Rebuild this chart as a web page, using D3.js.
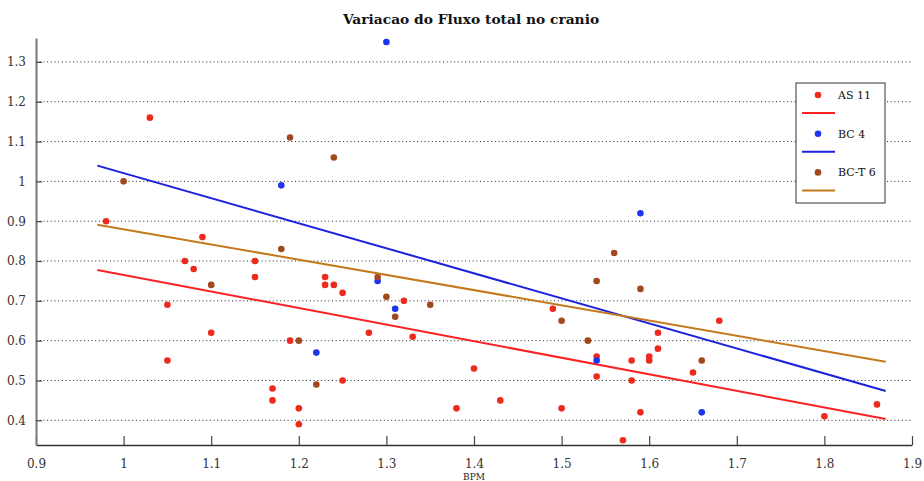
<!DOCTYPE html>
<html>
<head>
<meta charset="utf-8">
<script src="https://cdn.jsdelivr.net/npm/d3@7"></script>
<style>
  html, body { margin: 0; padding: 0; background: #fff; }
  svg { display: block; }
</style>
</head>
<body>
<svg id="chart" width="924" height="481"></svg>
<script>
// Group AS 11 (red)
const asBpm  = [0.98, 1.03, 1.05, 1.05, 1.07, 1.08, 1.09, 1.10, 1.15, 1.15, 1.17, 1.17, 1.19, 1.20, 1.20,
                1.23, 1.23, 1.24, 1.25, 1.25, 1.28, 1.32, 1.33, 1.38, 1.40, 1.43, 1.49, 1.50, 1.54, 1.54,
                1.57, 1.58, 1.58, 1.59, 1.60, 1.60, 1.61, 1.61, 1.65, 1.68, 1.80, 1.86];
const asFlow = [0.90, 1.16, 0.69, 0.55, 0.80, 0.78, 0.86, 0.62, 0.80, 0.76, 0.48, 0.45, 0.60, 0.43, 0.39,
                0.76, 0.74, 0.74, 0.72, 0.50, 0.62, 0.70, 0.61, 0.43, 0.53, 0.45, 0.68, 0.43, 0.56, 0.51,
                0.35, 0.55, 0.50, 0.42, 0.56, 0.55, 0.62, 0.58, 0.52, 0.65, 0.41, 0.44];

// Group BC 4 (blue)
const bcBpm  = [1.18, 1.22, 1.29, 1.30, 1.31, 1.54, 1.59, 1.66];
const bcFlow = [0.99, 0.57, 0.75, 1.35, 0.68, 0.55, 0.92, 0.42];

// Group BC-T 6 (brown)
const bctBpm  = [1.00, 1.10, 1.18, 1.19, 1.20, 1.22, 1.24, 1.29, 1.30, 1.31, 1.35, 1.50, 1.53, 1.54, 1.56, 1.59, 1.66];
const bctFlow = [1.00, 0.74, 0.83, 1.11, 0.60, 0.49, 1.06, 0.76, 0.71, 0.66, 0.69, 0.65, 0.60, 0.75, 0.82, 0.73, 0.55];

// Linear fit lines: values at the two ends of the fitted BPM range
const fitBpm  = [0.97, 1.87];
const asFit   = [0.7775, 0.4032];
const bcFit   = [1.0395, 0.4736];
const bctFit  = [0.8913, 0.5472];

const seriesNames = ["AS 11", "BC 4", "BC-T 6"];
const xTicks = [0.9, 1.0, 1.1, 1.2, 1.3, 1.4, 1.5, 1.6, 1.7, 1.8, 1.9];
const yTicks = [0.4, 0.5, 0.6, 0.7, 0.8, 0.9, 1.0, 1.1, 1.2, 1.3];

const series = [
  { name: seriesNames[0], x: asBpm,  y: asFlow,  fit: asFit,  dot: "#ee2a1e", line: "#fa2222" },
  { name: seriesNames[1], x: bcBpm,  y: bcFlow,  fit: bcFit,  dot: "#1e34ee", line: "#1a22dc" },
  { name: seriesNames[2], x: bctBpm, y: bctFlow, fit: bctFit, dot: "#a2481e", line: "#c47a1c" }
];

const svg = d3.select("#chart");
const plotLeft = 36, plotRight = 912, plotTop = 38, plotBottom = 445;

const x = d3.scaleLinear().domain([0.9, 1.9]).range([plotLeft, plotRight]);
const y = d3.scaleLinear().domain([0.338, 1.36]).range([plotBottom, plotTop]);

const fmt = d => (d === 1 ? "1" : d3.format(".1f")(d));

// horizontal dotted grid
svg.append("g")
  .selectAll("line")
  .data(yTicks)
  .join("line")
  .attr("x1", plotLeft).attr("x2", plotRight)
  .attr("y1", d => y(d)).attr("y2", d => y(d))
  .attr("stroke", "#222")
  .attr("stroke-width", 1)
  .attr("stroke-dasharray", "1,2.7");

// x axis
const xAxis = svg.append("g")
  .attr("transform", `translate(0,${plotBottom})`)
  .call(d3.axisBottom(x).tickValues(xTicks).tickFormat(fmt).tickSizeInner(-9).tickSizeOuter(0).tickPadding(14));
xAxis.select(".domain").attr("stroke", "#333").attr("stroke-width", 1.5);
xAxis.selectAll(".tick line").attr("stroke", "#444").attr("stroke-width", 1.2);
xAxis.selectAll("text")
  .attr("font-family", "DejaVu Serif, serif")
  .attr("font-size", 12)
  .attr("fill", "#333");

// y axis
const yAxis = svg.append("g")
  .attr("transform", `translate(${plotLeft},0)`)
  .call(d3.axisLeft(y).tickValues(yTicks).tickFormat(fmt).tickSizeInner(-6).tickSizeOuter(0).tickPadding(10));
yAxis.select(".domain").attr("stroke", "#777").attr("stroke-width", 2);
yAxis.selectAll(".tick line").attr("stroke", "#444").attr("stroke-width", 1.2);
yAxis.selectAll("text")
  .attr("font-family", "DejaVu Serif, serif")
  .attr("font-size", 12)
  .attr("fill", "#333");

// points and fit lines per group
const lineGen = d3.line().x(d => x(d[0])).y(d => y(d[1]));
series.forEach(s => {
  svg.append("g")
    .selectAll("circle")
    .data(s.x.map((v, i) => [v, s.y[i]]))
    .join("circle")
    .attr("cx", d => x(d[0]))
    .attr("cy", d => y(d[1]))
    .attr("r", 3.3)
    .attr("fill", s.dot);
  svg.append("path")
    .datum(fitBpm.map((v, i) => [v, s.fit[i]]))
    .attr("d", lineGen)
    .attr("fill", "none")
    .attr("stroke", s.line)
    .attr("stroke-width", 2);
});

// title and axis label
svg.append("text")
  .attr("x", 471).attr("y", 24)
  .attr("text-anchor", "middle")
  .attr("font-family", "DejaVu Serif, serif")
  .attr("font-weight", "bold")
  .attr("font-size", 13.8)
  .attr("fill", "#111")
  .text("Variacao do Fluxo total no cranio");

svg.append("text")
  .attr("x", x(1.4)).attr("y", 480)
  .attr("text-anchor", "middle")
  .attr("font-family", "DejaVu Serif, serif")
  .attr("font-size", 9)
  .attr("fill", "#222")
  .text("BPM");

// legend
const lg = svg.append("g").attr("transform", "translate(796,83)");
lg.append("rect")
  .attr("width", 89).attr("height", 120)
  .attr("fill", "#fff").attr("stroke", "#333").attr("stroke-width", 1);
series.forEach((s, i) => {
  const row = lg.append("g").attr("transform", `translate(0,${12 + i * 38.7})`);
  row.append("circle").attr("cx", 22).attr("cy", 0).attr("r", 3.3).attr("fill", s.dot);
  row.append("line").attr("x1", 6).attr("x2", 39).attr("y1", 18).attr("y2", 18)
    .attr("stroke", s.line).attr("stroke-width", 2);
  row.append("text").attr("x", 42).attr("y", 4)
    .attr("font-family", "DejaVu Serif, serif")
    .attr("font-size", 11)
    .attr("fill", "#111")
    .text(s.name);
});
</script>
</body>
</html>
